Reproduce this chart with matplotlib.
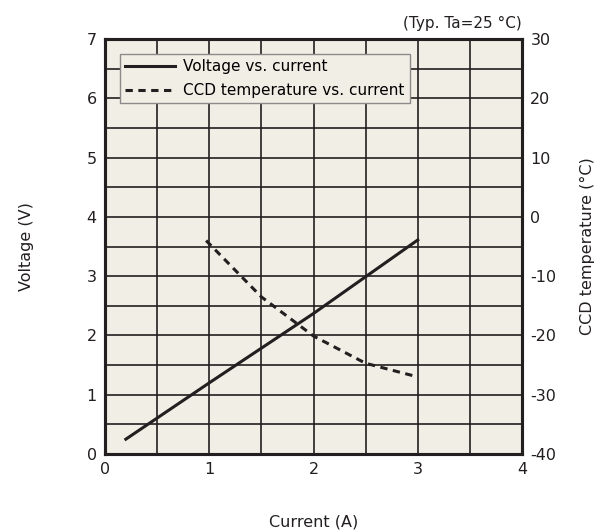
import numpy as np
import matplotlib
matplotlib.use('Agg')
import matplotlib.pyplot as plt

# data
current_v = [0.2, 1.0, 2.0, 3.0]
voltage = [0.25, 1.2, 2.37, 3.61]
current_t = [0.97, 1.5, 2.0, 2.5, 3.0]
ccd_temp = [-4.0, -13.5, -20.1, -24.7, -27.0]

plt.rcParams['font.family'] = ['DejaVu Sans']
plt.rcParams['axes.unicode_minus'] = False
plt.rcParams['font.size'] = 11
ink = '#231f20'
bg = '#f1eee6'

fig = plt.figure(figsize=(6.01, 5.32), dpi=100)
ax = fig.add_axes([105/601, 1 - 454/532, 417/601, 415/532])
ax.set_facecolor(bg)
ax2 = ax.twinx()

ax.plot(current_v, voltage, color=ink, lw=2.2, label='Voltage vs. current')
ax2.plot(current_t, ccd_temp, color=ink, lw=2.2, ls=(0, (2.4, 1.8)),
         label='CCD temperature vs. current')

ax.set_xlim(0, 4)
ax.set_ylim(0, 7)
ax2.set_ylim(-40, 30)
ax.set_xticks(np.arange(0, 4.01, 1))
ax.set_xticks(np.arange(0, 4.01, 0.5), minor=True)
ax.set_yticks(np.arange(0, 7.01, 1))
ax.set_yticks(np.arange(0, 7.01, 0.5), minor=True)
ax2.set_yticks(np.arange(-40, 30.1, 10))
ax.grid(which='both', color=ink, lw=1.2)
ax.set_axisbelow(True)
ax.tick_params(which='both', length=0, colors=ink, labelsize=11.5, pad=6)
ax2.tick_params(length=0, colors=ink, labelsize=11.5, pad=6)
for a in (ax, ax2):
    for s in a.spines.values():
        s.set_linewidth(2.2)
        s.set_color(ink)

ax.set_xlabel('Current (A)', fontsize=11.5, color=ink, labelpad=27)
ax.set_ylabel('Voltage (V)', fontsize=11.5, color=ink, labelpad=38)
ax2.set_ylabel('CCD temperature (°C)', fontsize=11.5, color=ink, labelpad=17)
ax.set_title('(Typ. Ta=25 °C)', loc='right', fontsize=11, color=ink, pad=8)

h1, l1 = ax.get_legend_handles_labels()
h2, l2 = ax2.get_legend_handles_labels()
leg = ax2.legend(h1 + h2, l1 + l2, loc='upper left', bbox_to_anchor=(0.017, 0.982),
                 fancybox=False, framealpha=1, facecolor=bg, edgecolor='#8a8a8a',
                 handlelength=3.3, handletextpad=0.5, borderpad=0.35,
                 labelspacing=0.55, fontsize=11)
leg.get_frame().set_linewidth(1)

fig.savefig('out.png', dpi=100)
